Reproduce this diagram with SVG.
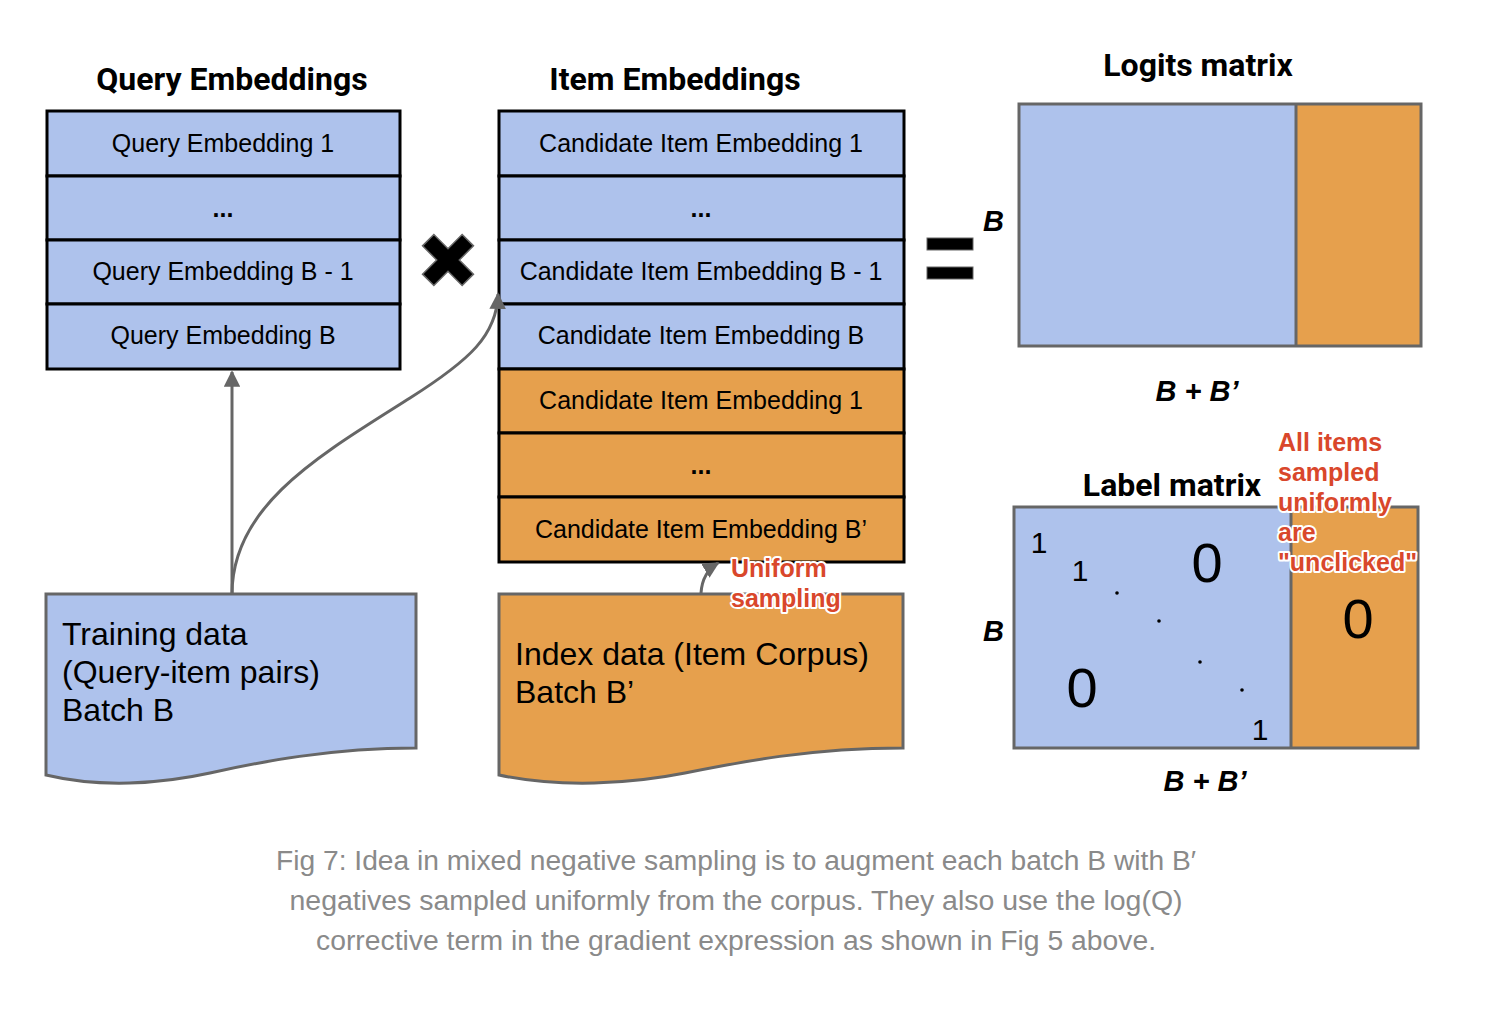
<svg xmlns="http://www.w3.org/2000/svg" width="1496" height="1012" viewBox="0 0 1496 1012">
<defs>
<style>
.blue{fill:#aec2ec}
.orange{fill:#e6a04d}
.cell{stroke:#000;stroke-width:3}
.mat{stroke:#666;stroke-width:3}
.t{font-family:"Liberation Sans",Arial,sans-serif;font-size:25px;fill:#000;text-anchor:middle}
.title{font-family:Roboto,"Liberation Sans",sans-serif;font-weight:bold;font-size:32px;fill:#000;text-anchor:middle}
.bi{font-family:"Liberation Sans",Arial,sans-serif;font-weight:bold;font-style:italic;font-size:29px;fill:#000}
.big{font-family:"Liberation Sans",Arial,sans-serif;font-size:32px;fill:#000}
.num{font-family:"Liberation Sans",Arial,sans-serif;fill:#000;text-anchor:middle}
.red{font-family:"Liberation Sans",Arial,sans-serif;font-weight:bold;font-size:25px;fill:#d9472b;stroke:#fff;stroke-width:4;paint-order:stroke;stroke-linejoin:round}
.cap{font-family:"Liberation Sans",Arial,sans-serif;font-size:27px;fill:#8a8a8a;text-anchor:middle}
.conn{fill:none;stroke:#666;stroke-width:3}
</style>
<marker id="ah" viewBox="0 0 10 10" refX="9" refY="5" markerWidth="5.5" markerHeight="5.5" orient="auto-start-reverse" markerUnits="strokeWidth">
<path d="M0,0 L10,5 L0,10 Z" fill="#666"/>
</marker>
</defs>
<rect width="1496" height="1012" fill="#fff"/>

<g id="query-embeddings">
<text class="title" x="232" y="90">Query Embeddings</text>
<rect class="blue cell" x="47" y="111" width="353" height="65"/>
<rect class="blue cell" x="47" y="176" width="353" height="64"/>
<rect class="blue cell" x="47" y="240" width="353" height="64"/>
<rect class="blue cell" x="47" y="304" width="353" height="65"/>
<text class="t" x="223" y="152">Query Embedding 1</text>
<text class="t" x="223" y="217" font-weight="bold">...</text>
<text class="t" x="223" y="280">Query Embedding B - 1</text>
<text class="t" x="223" y="344">Query Embedding B</text>
</g>

<g id="times">
<path d="M-8,-28 H8 V-8 H28 V8 H8 V28 H-8 V8 H-28 V-8 H-8 Z" transform="translate(448,260) rotate(45)" fill="#000" stroke="#666" stroke-width="1.5"/>
</g>

<g id="item-embeddings">
<text class="title" x="675" y="90">Item Embeddings</text>
<rect class="blue cell" x="499" y="111" width="405" height="65"/>
<rect class="blue cell" x="499" y="176" width="405" height="64"/>
<rect class="blue cell" x="499" y="240" width="405" height="64"/>
<rect class="blue cell" x="499" y="304" width="405" height="65"/>
<rect class="orange cell" x="499" y="369" width="405" height="64"/>
<rect class="orange cell" x="499" y="433" width="405" height="64"/>
<rect class="orange cell" x="499" y="497" width="405" height="65"/>
<text class="t" x="701" y="152">Candidate Item Embedding 1</text>
<text class="t" x="701" y="217" font-weight="bold">...</text>
<text class="t" x="701" y="280">Candidate Item Embedding B - 1</text>
<text class="t" x="701" y="344">Candidate Item Embedding B</text>
<text class="t" x="701" y="409">Candidate Item Embedding 1</text>
<text class="t" x="701" y="474" font-weight="bold">...</text>
<text class="t" x="701" y="538">Candidate Item Embedding B’</text>
</g>

<g id="equals">
<rect x="927" y="238" width="46" height="12" fill="#000" stroke="#666" stroke-width="1"/>
<rect x="927" y="267" width="46" height="12" fill="#000" stroke="#666" stroke-width="1"/>
</g>

<g id="logits-matrix">
<text class="title" x="1198" y="76">Logits matrix</text>
<rect class="blue" x="1019" y="104" width="277" height="242"/>
<rect class="orange" x="1296" y="104" width="125" height="242"/>
<rect class="mat" x="1019" y="104" width="402" height="242" fill="none"/>
<line class="mat" x1="1296" y1="104" x2="1296" y2="346"/>
<text class="bi" x="983" y="231">B</text>
<text class="bi" x="1197" y="401" text-anchor="middle">B + B’</text>
</g>

<g id="label-matrix">
<text class="title" x="1172" y="496">Label matrix</text>
<rect class="blue" x="1014" y="507" width="277" height="241"/>
<rect class="orange" x="1291" y="507" width="127" height="241"/>
<rect class="mat" x="1014" y="507" width="404" height="241" fill="none"/>
<line class="mat" x1="1291" y1="507" x2="1291" y2="748"/>
<text class="bi" x="983" y="641">B</text>
<text class="bi" x="1205" y="791" text-anchor="middle">B + B’</text>
<text class="num" x="1039" y="553" font-size="30">1</text>
<text class="num" x="1080" y="581" font-size="30">1</text>
<text class="num" x="1207" y="582" font-size="56">0</text>
<circle cx="1117" cy="593" r="1.8" fill="#000"/>
<circle cx="1159" cy="621" r="1.8" fill="#000"/>
<circle cx="1200" cy="662" r="1.8" fill="#000"/>
<circle cx="1242" cy="690" r="1.8" fill="#000"/>
<text class="num" x="1082" y="707" font-size="56">0</text>
<text class="num" x="1260" y="740" font-size="30">1</text>
<text class="num" x="1358" y="638" font-size="56">0</text>
</g>

<g id="annotation-unclicked">
<text class="red" x="1278" y="451">All items</text>
<text class="red" x="1278" y="481">sampled</text>
<text class="red" x="1278" y="511">uniformly</text>
<text class="red" x="1278" y="541">are</text>
<text class="red" x="1278" y="571">"unclicked"</text>
</g>

<g id="training-data">
<path d="M46,594 H416 V748 C330,748 260,762 210,773 C160,784 100,788 46,775 Z" class="blue" stroke="#666" stroke-width="3"/>
<text class="big" x="62" y="645">Training data</text>
<text class="big" x="62" y="683">(Query-item pairs)</text>
<text class="big" x="62" y="721">Batch B</text>
</g>

<g id="index-data">
<path d="M499,594 H903 V748 C810,748 740,762 685,773 C630,784 560,788 499,775 Z" class="orange" stroke="#666" stroke-width="3"/>
<text class="big" x="515" y="665">Index data (Item Corpus)</text>
<text class="big" x="515" y="703">Batch B’</text>
</g>

<g id="connectors">
<path class="conn" d="M232,594 V372" marker-end="url(#ah)"/>
<path class="conn" d="M232,594 C232,505 320,455 410,398 C470,360 497,335 498,294" marker-end="url(#ah)"/>
<path class="conn" d="M701,593 C702,578 708,569 718,563" marker-end="url(#ah)"/>
</g>

<g id="annotation-uniform">
<text class="red" x="731" y="577">Uniform</text>
<text class="red" x="731" y="607">sampling</text>
</g>

<g id="caption">
<text class="cap" x="736" y="870" textLength="920" lengthAdjust="spacingAndGlyphs">Fig 7: Idea in mixed negative sampling is to augment each batch B with B′</text>
<text class="cap" x="736" y="910" textLength="893" lengthAdjust="spacingAndGlyphs">negatives sampled uniformly from the corpus. They also use the log(Q)</text>
<text class="cap" x="736" y="950" textLength="840" lengthAdjust="spacingAndGlyphs">corrective term in the gradient expression as shown in Fig 5 above.</text>
</g>
</svg>
